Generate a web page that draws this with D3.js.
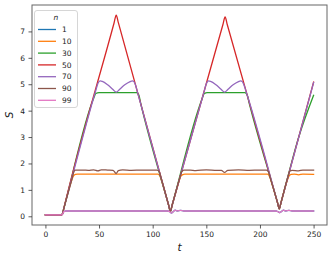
<!DOCTYPE html>
<html><head><meta charset="utf-8">
<script src="https://cdn.jsdelivr.net/npm/d3@7"></script>
<style>body{margin:0;background:#fff}svg{display:block}text{font-family:"DejaVu Sans",sans-serif}</style>
</head><body><svg id="c" width="333" height="260"></svg>
<script>
const seriesNames = ["1","10","30","50","70","90","99"];
const colors = ["#1f77b4","#ff7f0e","#2ca02c","#d62728","#9467bd","#8c564b","#e377c2"];
const xTicks = [0,50,100,150,200,250];
const yTicks = [0,1,2,3,4,5,6,7];

const n1 = [[0,0.05],[15,0.05],[16,0.08],[17.5,0.19],[19,0.2],[114,0.2],[116,0.17],[117.5,0.12],[119,0.17],[121,0.23],[123,0.2],[126,0.22],[129,0.2],[215,0.2],[217,0.17],[218.5,0.14],[220,0.18],[222,0.23],[224,0.2],[227,0.22],[230,0.2],[250,0.2]];
const n10 = [[0,0.05],[15,0.05],[16,0.11],[17,0.27],[24,1.3],[26,1.52],[28,1.59],[30,1.6],[60,1.6],[105,1.6],[107,1.5],[109,1.25],[115,0.4],[116.5,0.19],[118,0.4],[124,1.25],[126,1.5],[128,1.58],[130,1.6],[170,1.6],[207,1.6],[209,1.5],[211,1.25],[216.5,0.5],[218,0.28],[219.5,0.5],[225,1.3],[227,1.52],[229,1.59],[232,1.6],[236,1.57],[240,1.6],[250,1.59]];
const n30 = [[0,0.05],[15,0.05],[16,0.12],[17,0.27],[45,4.47],[47,4.65],[50,4.68],[70,4.68],[85,4.68],[87,4.6],[89,4.25],[115,0.4],[116.5,0.18],[118,0.4],[146,4.44],[148,4.64],[151,4.68],[170,4.68],[186,4.68],[188,4.6],[190,4.28],[216.5,0.5],[218,0.28],[219.5,0.5],[236,2.98],[250,4.58]];
const n50 = [[0,0.05],[15,0.05],[16,0.1],[17,0.27],[64,7.32],[66,7.62],[68,7.33],[115,0.4],[116.5,0.18],[118,0.4],[165.5,7.26],[167.5,7.55],[169.5,7.26],[216.5,0.5],[218,0.28],[219.5,0.5],[250,5.08]];
const n70 = [[0,0.05],[15,0.05],[16,0.12],[17,0.27],[47,4.77],[49,5.04],[51,5.13],[53,5.11],[58,4.98],[63,4.8],[66,4.7],[69,4.8],[74,4.98],[79,5.1],[81,5.13],[82.5,5.1],[84,4.97],[86,4.67],[115,0.4],[116.5,0.18],[118,0.4],[148,4.73],[150,5.02],[152,5.13],[154,5.11],[159,4.98],[164,4.8],[167,4.7],[170,4.8],[175,4.98],[180,5.1],[182,5.13],[183.5,5.1],[185,4.98],[188,4.6],[216.5,0.5],[218,0.28],[219.5,0.5],[250,5.06]];
const n90 = [[0,0.05],[15,0.05],[16,0.11],[17,0.27],[25,1.45],[26.5,1.68],[28,1.75],[35,1.75],[40,1.74],[45,1.76],[49,1.72],[52,1.76],[58,1.75],[63,1.74],[66,1.62],[68,1.73],[72,1.76],[80,1.74],[90,1.75],[104,1.75],[106,1.7],[108,1.43],[115,0.4],[116.5,0.18],[118,0.4],[125,1.41],[127,1.68],[129,1.75],[135,1.75],[140,1.73],[150,1.76],[160,1.74],[164,1.74],[167,1.66],[170,1.74],[180,1.76],[190,1.74],[200,1.75],[206,1.75],[208,1.68],[210,1.4],[216.5,0.5],[218,0.28],[219.5,0.5],[226,1.48],[228,1.72],[230,1.74],[236,1.72],[240,1.75],[250,1.75]];
const n99 = [[0,0.05],[15,0.05],[16,0.08],[17.5,0.19],[19,0.2],[114,0.2],[116,0.17],[117.5,0.12],[119,0.17],[121,0.23],[123,0.2],[126,0.22],[129,0.2],[215,0.2],[217,0.17],[218.5,0.14],[220,0.18],[222,0.23],[224,0.2],[227,0.22],[230,0.2],[250,0.2]];
const allSeries = [n1,n10,n30,n50,n70,n90,n99];

const svg = d3.select("#c");
const L=32,R=327,T=5,B=225;
const x = d3.scaleLinear().domain([-12.5,262.5]).range([L,R]);
const y = d3.scaleLinear().domain([-0.33,8.0]).range([B,T]);

const line = d3.line().x(d=>x(d[0])).y(d=>y(d[1])).curve(d3.curveMonotoneX);
const g = svg.append("g");
allSeries.forEach((s,i)=>{
  g.append("path").attr("d",line(s)).attr("fill","none").attr("stroke",colors[i])
   .attr("stroke-width",1.3).attr("stroke-linejoin","round").attr("stroke-linecap","square");
});

// spines
svg.append("rect").attr("x",L).attr("y",T).attr("width",R-L).attr("height",B-T)
  .attr("fill","none").attr("stroke","#666").attr("stroke-width",1);

const fs = 7.5;
const xa = svg.append("g").attr("transform",`translate(0,${B})`)
  .call(d3.axisBottom(x).tickValues(xTicks).tickSize(3.5).tickPadding(3.5).tickFormat(d3.format("d")));
const ya = svg.append("g").attr("transform",`translate(${L},0)`)
  .call(d3.axisLeft(y).tickValues(yTicks).tickSize(3.5).tickPadding(3.5).tickFormat(d3.format("d")));
[xa,ya].forEach(a=>{
  a.select(".domain").remove();
  a.selectAll(".tick line").attr("stroke","#333").attr("stroke-width",0.8);
  a.selectAll("text").attr("font-size",fs).attr("fill","#222").attr("font-family","DejaVu Sans");
});

svg.append("text").attr("x",(L+R)/2).attr("y",251).attr("text-anchor","middle")
  .attr("font-size",10.5).attr("font-style","italic").attr("fill","#222").text("t");
svg.append("text").attr("transform",`translate(13,${(T+B)/2}) rotate(-90)`).attr("text-anchor","middle")
  .attr("font-size",10.5).attr("font-style","italic").attr("fill","#222").text("S");

// legend
const lg = svg.append("g");
lg.append("rect").attr("x",34.5).attr("y",10.5).attr("width",43).attr("height",97).attr("rx",2.5)
  .attr("fill","#fff").attr("fill-opacity",0.8).attr("stroke","#ccc").attr("stroke-width",0.8);
lg.append("text").attr("x",56).attr("y",20).attr("text-anchor","middle").attr("font-size",fs)
  .attr("font-style","italic").attr("fill","#222").text("n");
seriesNames.forEach((nm,i)=>{
  const yy = 29.5 + i*11.8;
  lg.append("line").attr("x1",38).attr("x2",56).attr("y1",yy).attr("y2",yy)
    .attr("stroke",colors[i]).attr("stroke-width",1.3);
  lg.append("text").attr("x",62).attr("y",yy+2.7).attr("font-size",fs).attr("fill","#222").text(nm);
});
</script></body></html>
